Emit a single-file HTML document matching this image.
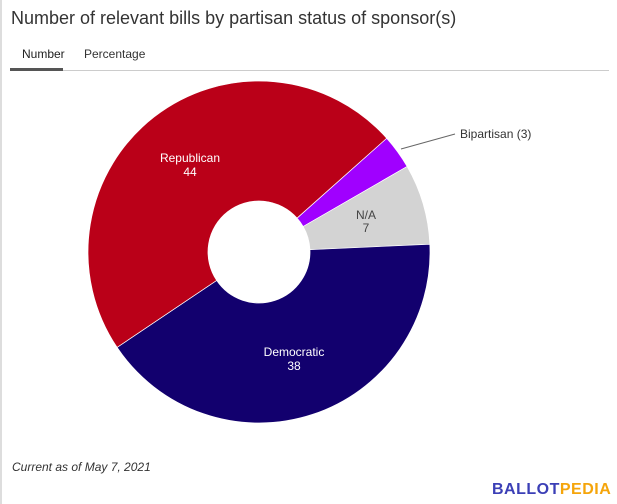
<!DOCTYPE html>
<html><head><style>
body{margin:0;width:617px;height:504px;background:#fff;font-family:"Liberation Sans",sans-serif;position:relative;overflow:hidden}
.a{position:absolute;white-space:nowrap}
</style></head><body>
<div class="a" style="left:0;top:0;width:2px;height:504px;background:#ddd"></div>
<div class="a" style="left:11px;top:8px;font-size:18px;color:#333">Number of relevant bills by partisan status of sponsor(s)</div>
<div class="a" style="left:22px;top:47px;font-size:12px;color:#222">Number</div>
<div class="a" style="left:84px;top:47px;font-size:12px;color:#333">Percentage</div>
<div class="a" style="left:10px;top:70px;width:599px;height:1px;background:#ccc"></div>
<div class="a" style="left:10px;top:68px;width:53px;height:3px;background:#555"></div>
<svg class="a" style="left:0;top:0" width="617" height="504" font-family="Liberation Sans, sans-serif" font-size="12">
<g id="p"></g>
<line x1="401" y1="149" x2="455" y2="134" stroke="#666" stroke-width="1"/>
<text x="460" y="138" fill="#333">Bipartisan (3)</text>
<g text-anchor="middle">
<text x="190" y="162" fill="#fff">Republican</text><text x="190" y="176" fill="#fff">44</text>
<text x="294" y="356" fill="#fff">Democratic</text><text x="294" y="370" fill="#fff">38</text>
<text x="366" y="219" fill="#444">N/A</text><text x="366" y="232" fill="#444">7</text>
</g>
</svg>
<div class="a" style="left:12px;top:460px;font-size:12px;font-style:italic;color:#333">Current as of May 7, 2021</div>
<div class="a" style="left:492px;top:481px;font-size:16px;font-weight:bold;letter-spacing:0.5px"><span style="color:#3b3fb6">BALLOT</span><span style="color:#f5a50b">PEDIA</span></div>
<script>
var cx=259,cy=252,R=171,r=51,g=document.getElementById('p');
var s=[[48.3,60.0,'#a000ff'],[60.0,87.4,'#d3d3d3'],[87.4,236.1,'#12006e'],[236.1,408.3,'#ba0018']];
function pt(a,rr){a=a*Math.PI/180;return (cx+rr*Math.sin(a)).toFixed(2)+','+(cy-rr*Math.cos(a)).toFixed(2);}
s.forEach(function(d){var l=(d[1]-d[0])>180?1:0;
var p='M'+pt(d[0],R)+'A'+R+','+R+' 0 '+l+' 1 '+pt(d[1],R)+'L'+pt(d[1],r)+'A'+r+','+r+' 0 '+l+' 0 '+pt(d[0],r)+'Z';
var e=document.createElementNS('http://www.w3.org/2000/svg','path');e.setAttribute('d',p);e.setAttribute('fill',d[2]);e.setAttribute('stroke','#fff');e.setAttribute('stroke-width','0.7');g.appendChild(e);});
</script>
</body></html>
